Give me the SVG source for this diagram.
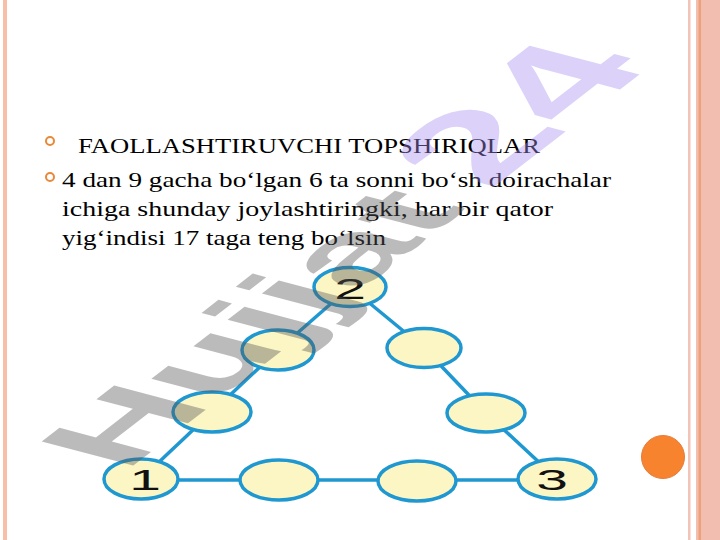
<svg xmlns="http://www.w3.org/2000/svg" width="720" height="540" viewBox="0 0 720 540">
  <style>
    .txt { font-family: "Liberation Serif", "Times New Roman", serif; font-size: 21px; fill: #000; }
    .bullet { fill: none; stroke: #e8893a; stroke-width: 2; }
    .node { fill: #fcf5c4; stroke: #1f97d0; stroke-width: 3.5; }
    .num { font-family: "Liberation Sans", Arial, sans-serif; font-size: 30px; fill: #111; text-anchor: middle; }
    .edge { stroke: #1f97d0; stroke-width: 3.5; fill: none; }
    .wm { font-family: "Liberation Sans", Arial, sans-serif; font-weight: bold; font-size: 140px; }
  </style>
  <rect x="0" y="0" width="720" height="540" fill="#ffffff"/>
  <!-- slide borders -->
  <rect x="3" y="0" width="4" height="540" fill="#f7bfa8"/>
  <rect x="688" y="0" width="2.5" height="540" fill="#f3c3b8"/>
  <rect x="696" y="0" width="24" height="540" fill="#f2beaf"/>
  <rect x="698.5" y="0" width="2.5" height="540" fill="#eba27b"/>
  <circle cx="663" cy="457" r="21.5" fill="#f8832f" stroke="#e67c38" stroke-width="1"/>

  <!-- text -->
  <g id="bullets">
    <circle class="bullet" cx="50" cy="141" r="4"/>
    <circle class="bullet" cx="50" cy="177" r="4"/>
  </g>
  <g id="text">
    <text class="txt" x="78" y="153" textLength="462" lengthAdjust="spacingAndGlyphs">FAOLLASHTIRUVCHI TOPSHIRIQLAR</text>
    <text class="txt" x="62" y="187" textLength="549" lengthAdjust="spacingAndGlyphs">4 dan 9 gacha bo‘lgan 6 ta sonni bo‘sh doirachalar</text>
    <text class="txt" x="62" y="216" textLength="491" lengthAdjust="spacingAndGlyphs">ichiga shunday joylashtiringki, har bir qator</text>
    <text class="txt" x="62" y="245" textLength="324" lengthAdjust="spacingAndGlyphs">yig‘indisi 17 taga teng bo‘lsin</text>
  </g>

  <!-- connectors -->
  <g id="connectors">
    <line class="edge" x1="350" y1="287" x2="278" y2="350"/>
    <line class="edge" x1="278" y1="350" x2="212" y2="412"/>
    <line class="edge" x1="212" y1="412" x2="141" y2="479"/>
    <line class="edge" x1="350" y1="287" x2="424" y2="348"/>
    <line class="edge" x1="424" y1="348" x2="486" y2="413"/>
    <line class="edge" x1="486" y1="413" x2="557" y2="479"/>
    <line class="edge" x1="141" y1="480" x2="557" y2="480"/>
  </g>

  <!-- nodes -->
  <g id="n2"><ellipse class="node" cx="350" cy="287" rx="36" ry="19.5"/><text class="num" transform="translate(350,299) scale(1.9,1)">2</text></g>
  <g id="nR1"><ellipse class="node" cx="424" cy="348" rx="37" ry="19.5"/></g>
  <g id="nR2"><ellipse class="node" cx="486" cy="413" rx="39" ry="19"/></g>
  <g id="n3"><ellipse class="node" cx="557" cy="479" rx="39" ry="20"/><text class="num" transform="translate(552,490) scale(1.9,1)">3</text></g>
  <g id="nB2"><ellipse class="node" cx="417" cy="481" rx="39" ry="20"/></g>
  <g id="nB1"><ellipse class="node" cx="279" cy="480" rx="39" ry="20"/></g>
  <g id="n1"><ellipse class="node" cx="141" cy="479" rx="37" ry="20"/><text class="num" transform="translate(145,490) scale(1.9,1)">1</text></g>
  <g id="nL2"><ellipse class="node" cx="212" cy="412" rx="39" ry="20"/></g>
  <g id="nL1"><ellipse class="node" cx="278" cy="350" rx="36" ry="20"/></g>

  <!-- watermark -->
  <text class="wm" transform="matrix(0.88,-0.68,0.95,0.25,125,472)" opacity="0.4"><tspan fill="#575757">Hujjat</tspan><tspan x="414" font-size="168" fill="#a78ef2">24</tspan></text>
</svg>
